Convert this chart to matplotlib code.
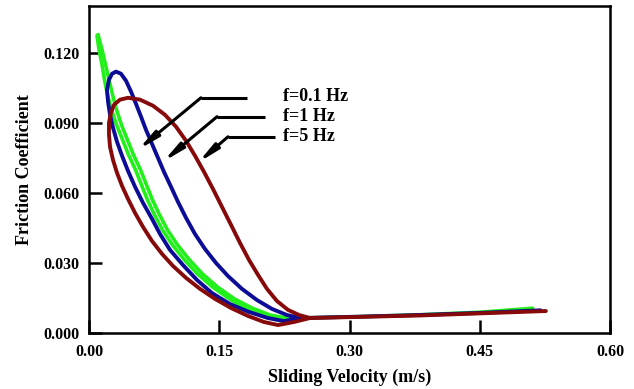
import matplotlib
matplotlib.use("Agg")
import matplotlib.pyplot as plt

# ---- data (sliding velocity m/s, friction coefficient) ----
# f = 5 Hz: merge -> upper branch -> peak -> left side -> lower branch -> merge -> tail
red_v = [0.2544, 0.2418, 0.2291, 0.2164, 0.2049, 0.1946, 0.1842, 0.1738, 0.1635,
         0.1531, 0.1427, 0.1324, 0.1220, 0.1117, 0.1002, 0.0875, 0.0737, 0.0587,
         0.0449, 0.0357, 0.0288, 0.0253, 0.0230, 0.0230, 0.0242, 0.0276, 0.0322,
         0.0380, 0.0449, 0.0530, 0.0622, 0.0725, 0.0840, 0.0967, 0.1117, 0.1278,
         0.1451, 0.1635, 0.1830, 0.2015, 0.2176, 0.2360, 0.2544, 0.3120, 0.3810,
         0.4501, 0.5261]
red_mu = [0.0064, 0.0077, 0.0099, 0.0137, 0.0189, 0.0249, 0.0313, 0.0386, 0.0463,
          0.0540, 0.0617, 0.0690, 0.0759, 0.0823, 0.0883, 0.0934, 0.0973, 0.0999,
          0.1007, 0.0999, 0.0977, 0.0943, 0.0900, 0.0849, 0.0797, 0.0741, 0.0686,
          0.0630, 0.0574, 0.0514, 0.0454, 0.0394, 0.0339, 0.0287, 0.0236, 0.0189,
          0.0146, 0.0107, 0.0073, 0.0047, 0.0034, 0.0047, 0.0064, 0.0069, 0.0075,
          0.0084, 0.0094]

# f = 1 Hz
blue_v = [0.2429, 0.2279, 0.2107, 0.1934, 0.1761, 0.1600, 0.1462, 0.1335, 0.1220,
          0.1117, 0.1025, 0.0944, 0.0863, 0.0794, 0.0725, 0.0656, 0.0599, 0.0541,
          0.0484, 0.0426, 0.0368, 0.0311, 0.0265, 0.0230, 0.0207, 0.0219, 0.0242,
          0.0276, 0.0322, 0.0380, 0.0449, 0.0530, 0.0622, 0.0725, 0.0817, 0.0932,
          0.1082, 0.1243, 0.1416, 0.1623, 0.1842, 0.2061, 0.2245, 0.2429, 0.3120,
          0.3810, 0.4501, 0.5200]
blue_mu = [0.0064, 0.0077, 0.0103, 0.0141, 0.0189, 0.0244, 0.0300, 0.0360, 0.0424,
           0.0493, 0.0561, 0.0626, 0.0690, 0.0750, 0.0810, 0.0870, 0.0926, 0.0981,
           0.1033, 0.1080, 0.1110, 0.1119, 0.1110, 0.1084, 0.1041, 0.0990, 0.0934,
           0.0879, 0.0819, 0.0759, 0.0694, 0.0626, 0.0557, 0.0489, 0.0424, 0.0356,
           0.0291, 0.0227, 0.0171, 0.0124, 0.0090, 0.0064, 0.0051, 0.0064, 0.0070,
           0.0077, 0.0086, 0.0097]

# f = 0.1 Hz: two nearly coincident branches
green_up_v = [0.2429, 0.2268, 0.2084, 0.1876, 0.1675, 0.1479, 0.1307, 0.1157, 0.1019,
              0.0904, 0.0812, 0.0731, 0.0662, 0.0593, 0.0512, 0.0443, 0.0374, 0.0317,
              0.0271, 0.0230, 0.0190, 0.0150, 0.0104]
green_up_mu = [0.0064, 0.0064, 0.0077, 0.0107, 0.0146, 0.0197, 0.0253, 0.0313, 0.0377,
               0.0441, 0.0506, 0.0570, 0.0634, 0.0699, 0.0763, 0.0827, 0.0891, 0.0956,
               0.1020, 0.1084, 0.1149, 0.1213, 0.1277]
green_dn_v = [0.0104, 0.0092, 0.0115, 0.0150, 0.0178, 0.0213, 0.0259, 0.0317, 0.0386,
              0.0455, 0.0535, 0.0604, 0.0673, 0.0754, 0.0846, 0.0961, 0.1099, 0.1249,
              0.1422, 0.1617, 0.1830, 0.2038, 0.2222, 0.2429, 0.3120, 0.3810, 0.4501,
              0.5110]
green_dn_mu = [0.1277, 0.1273, 0.1213, 0.1149, 0.1084, 0.1020, 0.0956, 0.0891, 0.0827,
               0.0763, 0.0699, 0.0634, 0.0570, 0.0506, 0.0441, 0.0377, 0.0313, 0.0253,
               0.0197, 0.0146, 0.0099, 0.0069, 0.0051, 0.0064, 0.0070, 0.0078, 0.0089,
               0.0106]

x_ticks = [0.00, 0.15, 0.30, 0.45, 0.60]
y_ticks = [0.000, 0.030, 0.060, 0.090, 0.120]
labels = ["f=0.1 Hz", "f=1 Hz", "f=5 Hz"]

GREEN = "#22f01a"
BLUE = "#0c0c96"
RED = "#870a0a"

plt.rcParams["font.family"] = "Liberation Serif"
plt.rcParams["font.weight"] = "bold"

fig = plt.figure(figsize=(6.34, 3.89), dpi=100, facecolor="white")
ax = fig.add_axes([0.1404, 0.1440, 0.8218, 0.8406])

line_kw = dict(solid_joinstyle="round", solid_capstyle="round")
ax.plot(green_up_v, green_up_mu, color=GREEN, lw=2.6, zorder=3, **line_kw)
ax.plot(green_dn_v, green_dn_mu, color=GREEN, lw=2.6, zorder=3, **line_kw)
ax.plot(blue_v, blue_mu, color=BLUE, lw=2.8, zorder=4, **line_kw)
ax.plot(red_v, red_mu, color=RED, lw=2.8, zorder=5, **line_kw)

# leader lines: horizontal stub, then arrow down to the curve
leaders = [
    ((0.1819, 0.1007), (0.1289, 0.1007), (0.0564, 0.0784)),
    ((0.2026, 0.0926), (0.1474, 0.0926), (0.0852, 0.0733)),
    ((0.2141, 0.0840), (0.1600, 0.0840), (0.1255, 0.0729)),
]
for start, corner, tip in leaders:
    ax.plot([start[0], corner[0]], [start[1], corner[1]], color="black", lw=2.2,
            solid_capstyle="butt", zorder=6)
    ax.annotate("", xy=tip, xytext=corner,
                arrowprops=dict(arrowstyle="-|>,head_length=0.6,head_width=0.1",
                                mutation_scale=20, lw=2.2, color="black",
                                shrinkA=0, shrinkB=0), zorder=6)

for txt, yy in zip(labels, [0.1013, 0.0927, 0.0841]):
    ax.text(0.2235, yy, txt, fontsize=13, fontweight="bold", ha="left",
            va="center", zorder=7)

ax.set_xlim(0, 0.60)
ax.set_ylim(0, 0.14)
ax.set_xticks(x_ticks)
ax.set_yticks(y_ticks)
ax.set_xticklabels([f"{v:.2f}" for v in x_ticks])
ax.set_yticklabels([f"{v:.3f}" for v in y_ticks])
ax.tick_params(direction="in", length=9.5, width=1.8, labelsize=11.5)
ax.tick_params(axis="x", pad=8)
ax.tick_params(axis="y", pad=7)
for lab in ax.get_xticklabels() + ax.get_yticklabels():
    lab.set_fontweight("bold")
for s in ax.spines.values():
    s.set_linewidth(1.8)

ax.set_xlabel("Sliding Velocity (m/s)", fontsize=13, fontweight="bold")
ax.set_ylabel("Friction Coefficient", fontsize=13, fontweight="bold")
ax.xaxis.set_label_coords(0.5, -0.108)
ax.yaxis.set_label_coords(-0.107, 0.5)

fig.savefig("out.png", dpi=100, facecolor="white")
